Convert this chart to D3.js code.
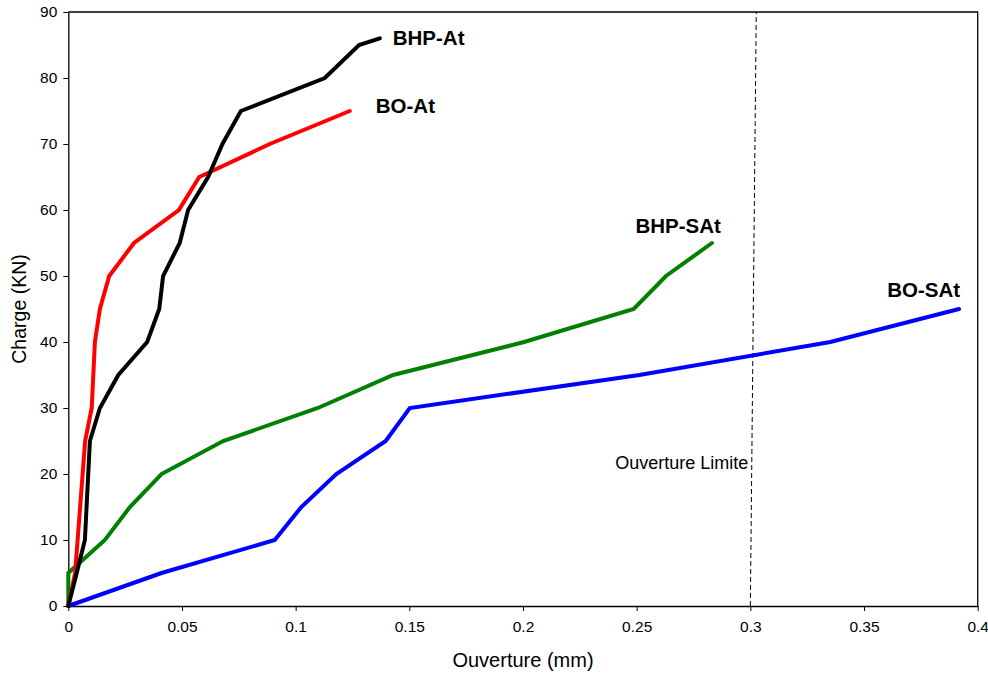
<!DOCTYPE html>
<html>
<head>
<meta charset="utf-8">
<script src="https://cdn.jsdelivr.net/npm/d3@7"></script>
<style>
  html, body { margin: 0; padding: 0; background: #fff; }
  svg { display: block; font-family: "Liberation Sans", Arial, sans-serif; }
</style>
</head>
<body>
<svg id="chart" width="988" height="675"></svg>
<script>
// ---------- data ----------
const xTicks = [0, 0.05, 0.1, 0.15, 0.2, 0.25, 0.3, 0.35, 0.4];
const xTickLabels = ["0", "0.05", "0.1", "0.15", "0.2", "0.25", "0.3", "0.35", "0.4"];
const yTicks = [0, 10, 20, 30, 40, 50, 60, 70, 80, 90];
const yTickLabels = ["0", "10", "20", "30", "40", "50", "60", "70", "80", "90"];

const seriesNames = ["BHP-At", "BO-At", "BHP-SAt", "BO-SAt"];
const seriesColors = ["#000000", "#ff0000", "#008000", "#0000ff"];

const bhpAtX = [0, 0.0037, 0.0073, 0.0095, 0.0139, 0.022, 0.0347, 0.040, 0.0417, 0.049, 0.0527, 0.0615, 0.0678, 0.0759, 0.1128, 0.1279, 0.137];
const bhpAtY = [0, 5, 10, 25, 30, 35, 40, 45, 50, 55, 60, 65, 70, 75, 80, 85, 86];

const boAtX = [0, 0.003, 0.0074, 0.0103, 0.0117, 0.0139, 0.018, 0.0289, 0.0486, 0.0576, 0.0886, 0.1238];
const boAtY = [0, 5, 25, 30, 40, 45, 50, 55, 60, 65, 70, 75];

const bhpSAtX = [0, 0, 0.0161, 0.0271, 0.041, 0.0681, 0.1098, 0.1429, 0.2005, 0.2487, 0.2629, 0.2831];
const bhpSAtY = [0, 5, 10, 15, 20, 25, 30, 35, 40, 45, 50, 55];

const boSAtX = [0, 0.041, 0.0908, 0.1025, 0.1179, 0.1396, 0.1502, 0.2512, 0.3352, 0.3918];
const boSAtY = [0, 5, 10, 15, 20, 25, 30, 35, 40, 45];

const limitX = [0.3, 0.3026];
const limitY = [0, 90];
const limitLabel = "Ouverture Limite";

const xTitle = "Ouverture (mm)";
const yTitle = "Charge (KN)";

// ---------- drawing ----------
const svg = d3.select("#chart");
const mLeft = 68.3, mRight = 977.7, mTop = 12, mBottom = 606;

const x = d3.scaleLinear().domain([0, 0.4]).range([mLeft, mRight]);
const y = d3.scaleLinear().domain([0, 90]).range([mBottom, mTop]);

// frame (top & right)
svg.append("path")
  .attr("d", `M${mLeft},${mTop}H${mRight}V${mBottom}`)
  .attr("fill", "none").attr("stroke", "#000").attr("stroke-width", 1.3);

// x axis
const xAxis = d3.axisBottom(x).tickValues(xTicks)
  .tickFormat((d, i) => xTickLabels[i]).tickSize(5).tickSizeOuter(0).tickPadding(10);
const gx = svg.append("g").attr("transform", `translate(0,${mBottom})`).call(xAxis);
gx.select(".domain").attr("stroke-width", 1.3);
gx.selectAll(".tick line").attr("stroke-width", 1);
gx.selectAll("text").attr("font-size", 15.5).attr("fill", "#000")
  .attr("font-family", '"Liberation Sans", Arial, sans-serif');

// y axis
const yAxis = d3.axisLeft(y).tickValues(yTicks)
  .tickFormat((d, i) => yTickLabels[i]).tickSize(5).tickSizeOuter(0).tickPadding(6);
const gy = svg.append("g").attr("transform", `translate(${mLeft},0)`).call(yAxis);
gy.select(".domain").attr("stroke-width", 1.3);
gy.selectAll(".tick line").attr("stroke-width", 1);
gy.selectAll("text").attr("font-size", 15.5).attr("fill", "#000")
  .attr("font-family", '"Liberation Sans", Arial, sans-serif');

// limit line
const line = d3.line().x(d => x(d[0])).y(d => y(d[1]));
svg.append("path")
  .datum(d3.zip(limitX, limitY))
  .attr("d", line)
  .attr("fill", "none").attr("stroke", "#000").attr("stroke-width", 1)
  .attr("stroke-dasharray", "5,3");

svg.append("text")
  .attr("x", x(limitX[0]) - 2).attr("y", y(20) - 5)
  .attr("text-anchor", "end").attr("font-size", 18)
  .text(limitLabel);

// series
const allX = [bhpAtX, boAtX, bhpSAtX, boSAtX];
const allY = [bhpAtY, boAtY, bhpSAtY, boSAtY];
const order = [2, 3, 1, 0];
order.forEach(i => {
  svg.append("path")
    .datum(d3.zip(allX[i], allY[i]))
    .attr("d", line)
    .attr("fill", "none")
    .attr("stroke", seriesColors[i])
    .attr("stroke-width", 4)
    .attr("stroke-linejoin", "miter")
    .attr("stroke-linecap", "round");
});

// end labels
const labelOffsets = [
  { dx: 13, dy: 7, anchor: "start" },
  { dx: 26, dy: 2, anchor: "start" },
  { dx: 9, dy: -10, anchor: "end" },
  { dx: 1, dy: -12, anchor: "end" }
];
seriesNames.forEach((name, i) => {
  const n = allX[i].length - 1;
  const o = labelOffsets[i];
  svg.append("text")
    .attr("x", x(allX[i][n]) + o.dx)
    .attr("y", y(allY[i][n]) + o.dy)
    .attr("text-anchor", o.anchor)
    .attr("font-size", 20.5).attr("font-weight", "bold")
    .text(name);
});

// axis titles
svg.append("text")
  .attr("x", (mLeft + mRight) / 2).attr("y", 667)
  .attr("text-anchor", "middle").attr("font-size", 20)
  .text(xTitle);
svg.append("text")
  .attr("transform", `translate(26,${(mTop + mBottom) / 2}) rotate(-90)`)
  .attr("text-anchor", "middle").attr("font-size", 19.5)
  .text(yTitle);
</script>
</body>
</html>
